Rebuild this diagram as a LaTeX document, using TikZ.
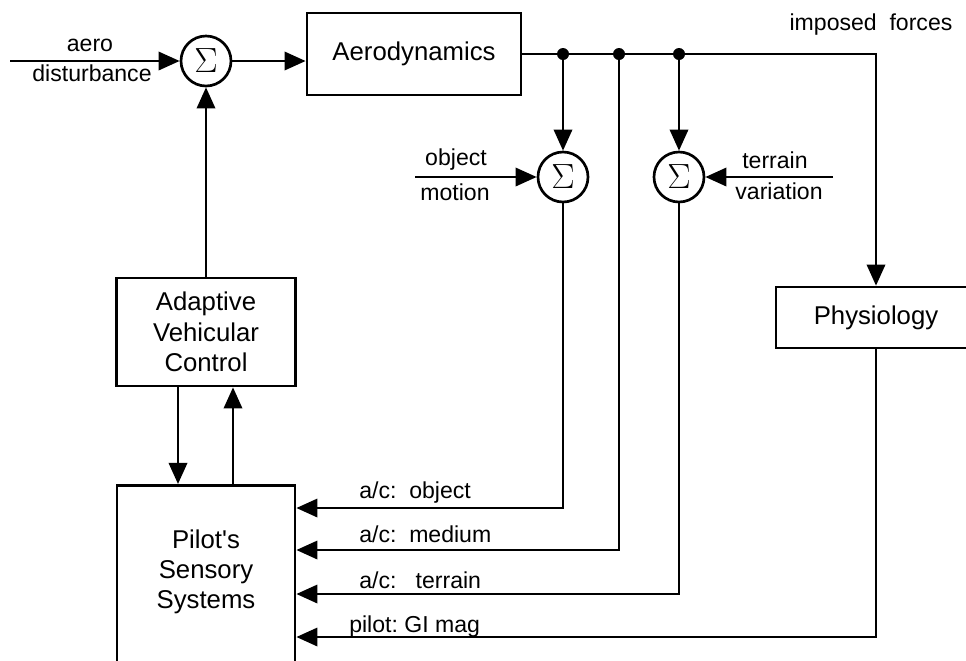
\documentclass[tikz,border=0pt]{standalone}
\usepackage{fontspec}
\setmainfont{Liberation Sans}
\usetikzlibrary{arrows.meta,calc}
\tikzset{
  blk/.style={draw, line width=1.9pt, align=center, font=\fontsize{18.3}{21.5}\selectfont},
  sumnode/.style={draw, circle, line width=1.9pt, minimum size=1.25cm, inner sep=0pt, font=\fontsize{28}{28}\selectfont},
  lbl/.style={font=\fontsize{16.4}{19}\selectfont, inner sep=0pt},
  dotnode/.style={circle, fill, inner sep=0pt, minimum size=0.3cm},
  sig/.style={line width=1.9pt},
  arr/.style={line width=1.9pt, -{Triangle[length=15pt,width=13pt]}}
}
\begin{document}
\begin{tikzpicture}[x=0.025cm, y=-0.025cm]
            \useasboundingbox (0,0) rectangle (966,660);
            \clip (0,0) rectangle (966,660);
            \node[sumnode] (sum1) at (206,61) {$\Sigma$};
            \node[sumnode] (sum2) at (563,177) {$\Sigma$};
            \node[sumnode] (sum3) at (679,177) {$\Sigma$};
            \node[blk, minimum width=5.35cm, minimum height=2.05cm] (aero) at (414,54) {Aerodynamics};
            \node[blk, minimum width=4.475cm, minimum height=2.7cm] (adapt) at (206,332) {Adaptive\\Vehicular\\Control};
            \node[blk, minimum width=4.45cm, minimum height=5.5cm, anchor=north] (pilot) at (206,484) {};
            \node[blk, draw=none] (pilottxt) at (206,572) {Pilot\textquotesingle s\\Sensory\\Systems};
            \node[blk, minimum width=5cm, minimum height=1.525cm] (phys) at (876,317.5) {Physiology};
            \node[dotnode] (dot1) at (563,54) {};
            \node[dotnode] (dot2) at (619,54) {};
            \node[dotnode] (dot3) at (679,54) {};
            \coordinate (aeroin) at (10,61);
            \coordinate (objin) at (415,177);
            \coordinate (terrin) at (833,177);
            \coordinate (objrow) at (0,508);
            \coordinate (medrow) at (0,550);
            \coordinate (terrow) at (0,594);
            \coordinate (girow) at (0,637);
            \node[lbl] (aerotxt) at (90,45) {aero};
            \node[lbl] (disttxt) at (92,73) {disturbance};
            \node[lbl] (objtxt) at (456,160) {object};
            \node[lbl] (mottxt) at (455,192) {motion};
            \node[lbl] (tertxt) at (775,160) {terrain};
            \node[lbl] (vartxt) at (779,191) {variation};
            \node[lbl] (imptxt) at (871,25) {imposed\ \ forces};
            \node[lbl, anchor=base west] (objlbl) at (359,498) {a/c:\ \ object};
            \node[lbl, anchor=base west] (medlbl) at (359,542) {a/c:\ \ medium};
            \node[lbl, anchor=base west] (terlbl) at (359,588) {a/c:\ \ \ terrain};
            \node[lbl, anchor=base west] (gilbl) at (349,632) {pilot:\ GI mag};
            \draw[arr] (aeroin) -- (sum1);
            \draw[arr] (sum1.east) -- (sum1.east -| aero.west);
            \draw[arr] (adapt.north) -- (sum1.south);
            \draw[arr] (aero.east) -| (phys.north);
            \draw[arr] (dot1) -- (sum2);
            \draw[arr] (dot3) -- (sum3);
            \draw[arr] (objin) -- (sum2);
            \draw[arr] (terrin) -- (sum3);
            \draw[arr] (sum2.south) |- (pilot.east |- objrow);
            \draw[arr] (dot2.center) |- (pilot.east |- medrow);
            \draw[arr] (sum3.south) |- (pilot.east |- terrow);
            \draw[arr] (phys.south) |- (pilot.east |- girow);
            \draw[arr] ($(adapt.south)+(-28,0)$) -- ($(pilot.north)+(-28,0)$);
            \draw[arr] ($(pilot.north)+(27,0)$) -- ($(adapt.south)+(27,0)$);
        \end{tikzpicture}
\end{document}
